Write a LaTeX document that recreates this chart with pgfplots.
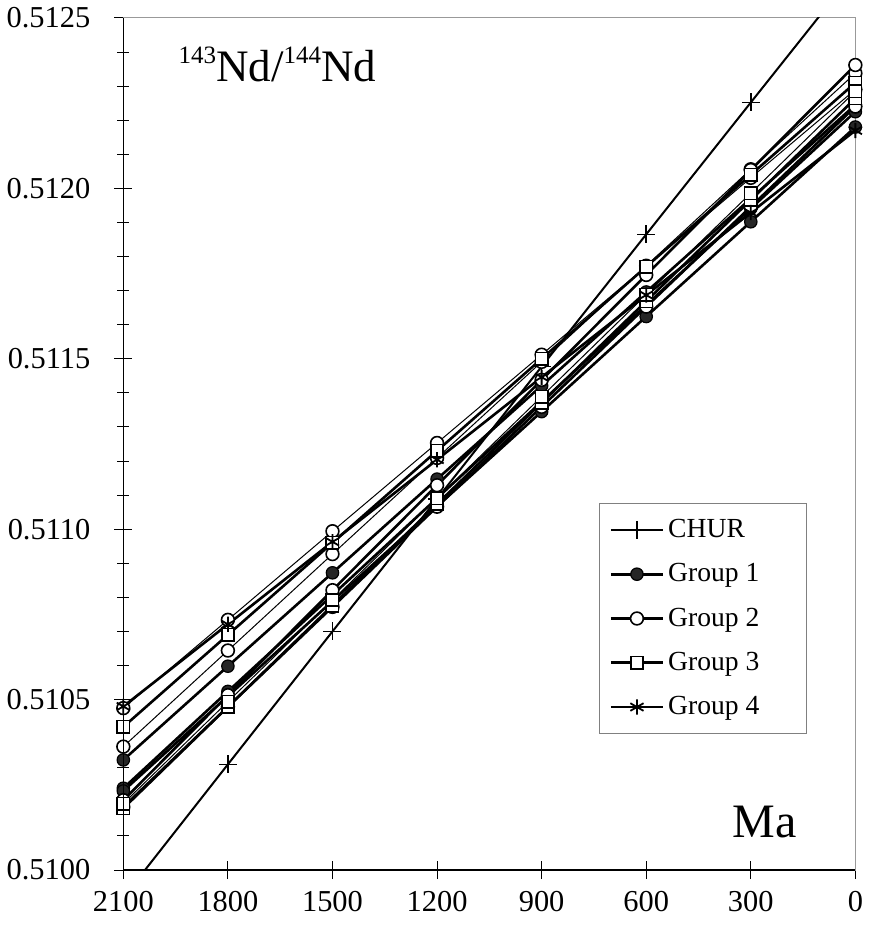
\documentclass[border=0pt]{standalone}
\usepackage{fontspec}
\setmainfont{Liberation Serif}
\usepackage{pgfplots}
\pgfplotsset{compat=1.18}
\pgfplotsset{
  chur/.style={black, line width=1pt, mark=+, mark size=4.5pt, mark options={solid, line width=0.8pt}},
  g1/.style={black, line width=1.3pt, mark=*, mark size=3.1pt, mark options={solid, fill=black!85, draw=black, line width=0.6pt}},
  g2/.style={black, line width=1.3pt, mark=*, mark size=3.2pt, mark options={solid, fill=white, draw=black, line width=0.8pt}},
  g3/.style={black, line width=1.3pt, mark=square*, mark size=3.1pt, mark options={solid, fill=white, draw=black, line width=0.8pt}},
  g4/.style={black, line width=1.3pt, mark=asterisk, mark size=3.8pt, mark options={solid, line width=0.9pt}},
}
\begin{document}
\begin{tikzpicture}
\begin{axis}[
  scale only axis, width=366pt, height=426pt,
  x dir=reverse, xmin=0, xmax=2100, ymin=0.5100, ymax=0.5125,
  xtick={0,300,600,900,1200,1500,1800,2100},
  ytick={0.5100,0.5105,0.5110,0.5115,0.5120,0.5125},
  minor y tick num=4,
  xtick pos=bottom, ytick pos=left,
  scaled y ticks=false, scaled x ticks=false,
  tick align=center,
  major tick length=9pt, minor tick length=6pt,
  tick style={black, line width=0.5pt},
  axis line style={draw=black!40, line width=0.5pt},
  tick label style={font=\fontsize{15.2}{18}\selectfont},
  /pgf/number format/assume math mode=true,
  yticklabel style={xshift=-8.5pt, /pgf/number format/fixed, /pgf/number format/fixed zerofill, /pgf/number format/precision=4},
  xticklabel style={yshift=-2.5pt, /pgf/number format/1000 sep={}},
  legend style={at={(rel axis cs:0.650,0.431)}, anchor=north west, draw=black!50, line width=0.5pt,
    font=\fontsize{13.8}{16}\selectfont, row sep=7.5pt, inner xsep=5pt, inner ysep=6pt},
  legend cell align=left,
  legend image code/.code={\draw[mark repeat=2,mark phase=2,#1] plot coordinates {(0pt,0pt) (13pt,0pt) (26pt,0pt)};},
  after end axis/.code={
    \draw[black, line width=0.6pt] (rel axis cs:0,1) -- (rel axis cs:0,0) -- (rel axis cs:1,0);
    \node[anchor=base west, inner sep=0pt, font=\fontsize{22.5}{26}\selectfont] at (rel axis cs:0.075,0.925) {{\fontsize{12.5}{14}\selectfont\raisebox{0.75em}{143}}Nd/{\fontsize{12.5}{14}\selectfont\raisebox{0.75em}{144}}Nd};
    \node[anchor=base west, inner sep=0pt, font=\fontsize{24}{28}\selectfont] at (rel axis cs:0.832,0.0376) {Ma};
    \path (rel axis cs:-0.1653,-0.0657) rectangle (rel axis cs:1.0109,1.0211);
  },
]
\addlegendimage{chur}\addlegendentry{\makebox[62pt][l]{CHUR}}
\addlegendimage{g1}\addlegendentry{Group 1}
\addlegendimage{g2}\addlegendentry{Group 2}
\addlegendimage{g3}\addlegendentry{Group 3}
\addlegendimage{g4}\addlegendentry{Group 4}

% CHUR
\addplot[black, line width=1pt, no markers, forget plot] coordinates {
 (2100,0.509919) (1800,0.510310) (1500,0.510700) (1200,0.511089) (900,0.511477) (600,0.511865) (300,0.512252) (0,0.512638)};
\addplot[chur, only marks, forget plot] coordinates {
 (1800,0.510310) (1500,0.510700) (1200,0.511089) (900,0.511477) (600,0.511865) (300,0.512252)};

% Group 1
\addplot[g1, forget plot] coordinates {
 (2100,0.510323) (1800,0.510598) (1500,0.510872) (1200,0.511147) (900,0.511421) (600,0.511696) (300,0.511970) (0,0.512245)};
\addplot[g1, forget plot] coordinates {
 (2100,0.510240) (1800,0.510524) (1500,0.510807) (1200,0.511091) (900,0.511374) (600,0.511658) (300,0.511941) (0,0.512225)};
\addplot[g1, forget plot] coordinates {
 (2100,0.510232) (1800,0.510510) (1500,0.510789) (1200,0.511067) (900,0.511345) (600,0.511624) (300,0.511902) (0,0.512180)};

% Group 2
\addplot[g2, line width=0.5pt, forget plot] coordinates {
 (2100,0.510475) (1800,0.510734) (1500,0.510994) (1200,0.511253) (900,0.511512) (600,0.511771) (300,0.512031) (0,0.512290)};
\addplot[g2, line width=0.5pt, forget plot] coordinates {
 (2100,0.510362) (1800,0.510644) (1500,0.510927) (1200,0.511209) (900,0.511491) (600,0.511773) (300,0.512056) (0,0.512338)};
\addplot[g2, forget plot] coordinates {
 (2100,0.510205) (1800,0.510513) (1500,0.510821) (1200,0.511129) (900,0.511438) (600,0.511746) (300,0.512054) (0,0.512362)};
\addplot[g2, forget plot] coordinates {
 (2100,0.510185) (1800,0.510479) (1500,0.510772) (1200,0.511066) (900,0.511359) (600,0.511653) (300,0.511946) (0,0.512240)};

% Group 3
\addplot[g3, forget plot] coordinates {
 (2100,0.510420) (1800,0.510690) (1500,0.510960) (1200,0.511230) (900,0.511500) (600,0.511770) (300,0.512040) (0,0.512310)};
\addplot[g3, forget plot] coordinates {
 (2100,0.510181) (1800,0.510479) (1500,0.510776) (1200,0.511074) (900,0.511371) (600,0.511669) (300,0.511966) (0,0.512264)};
\addplot[g3, line width=0.5pt, forget plot] coordinates {
 (2100,0.510195) (1800,0.510494) (1500,0.510792) (1200,0.511091) (900,0.511389) (600,0.511688) (300,0.511986) (0,0.512285)};

% Group 4
\addplot[g4, forget plot] coordinates {
 (2100,0.510480) (1800,0.510721) (1500,0.510963) (1200,0.511204) (900,0.511446) (600,0.511687) (300,0.511929) (0,0.512170)};
\end{axis}
\end{tikzpicture}
\end{document}
